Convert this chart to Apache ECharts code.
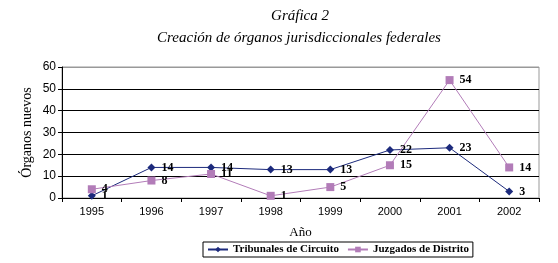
<!DOCTYPE html>
<html>
<head>
<meta charset="utf-8">
<script src="https://cdn.jsdelivr.net/npm/echarts@6/dist/echarts.min.js"></script>
<style>html,body{margin:0;padding:0;background:#fff;}</style>
</head>
<body>
<div id="main" style="width:558px;height:263px;"></div>
<script>
var years = ['1995', '1996', '1997', '1998', '1999', '2000', '2001', '2002'];
var tribunales = [1, 14, 14, 13, 13, 22, 23, 3];
var juzgados = [4, 8, 11, 1, 5, 15, 54, 14];

var chart = echarts.init(document.getElementById('main'));
var serif = '"Liberation Serif", "DejaVu Serif", serif';
var lbl = { show: true, position: 'right', distance: 6, color: '#000', fontFamily: serif, fontWeight: 'bold', fontSize: 12 };

var option = {
    animation: false,
    title: [
        { text: 'Gráfica 2', left: 295, top: 4, textAlign: 'center',
          textStyle: { fontFamily: serif, fontStyle: 'italic', fontWeight: 'normal', fontSize: 15, color: '#000' } },
        { text: 'Creación de órganos jurisdiccionales federales', left: 294, top: 26, textAlign: 'center',
          textStyle: { fontFamily: serif, fontStyle: 'italic', fontWeight: 'normal', fontSize: 15, color: '#000' } }
    ],
    grid: { left: 62, right: 19, top: 67, bottom: 65, show: true, borderColor: '#999', borderWidth: 1 },
    legend: {
        top: 242, left: 203,
        data: ['Tribunales de Circuito', 'Juzgados de Distrito'],
        itemWidth: 20, itemHeight: 7, itemGap: 8,
        borderColor: '#000', borderWidth: 1, padding: [2, 4],
        textStyle: { fontFamily: serif, fontWeight: 'bold', fontSize: 11, color: '#000' }
    },
    xAxis: {
        type: 'category', data: years, boundaryGap: true,
        name: 'Año', nameLocation: 'middle', nameGap: 28,
        nameTextStyle: { fontFamily: serif, fontSize: 13, color: '#000' },
        axisLine: { lineStyle: { color: '#000' } },
        axisTick: { show: true, length: 4, lineStyle: { color: '#000' } },
        axisLabel: { fontFamily: '"Liberation Sans", Arial, sans-serif', fontSize: 11, color: '#000', margin: 8 }
    },
    yAxis: {
        type: 'value', min: 0, max: 60, interval: 10,
        name: 'Órganos nuevos', nameLocation: 'middle', nameGap: 28, nameRotate: 90,
        nameMoveOverlap: false,
        nameTextStyle: { fontFamily: serif, fontSize: 14, color: '#000' },
        axisLine: { show: true, lineStyle: { color: '#000' } },
        axisTick: { show: true, length: 4, lineStyle: { color: '#000' } },
        axisLabel: { fontFamily: '"Liberation Sans", Arial, sans-serif', fontSize: 12, color: '#000', margin: 6 },
        splitLine: { show: true, lineStyle: { color: ['#000', '#000', '#000', '#000', '#000', '#000', '#999'], width: 1 } }
    },
    series: [
        {
            name: 'Tribunales de Circuito', type: 'line', data: tribunales,
            symbol: 'diamond', symbolSize: 8,
            lineStyle: { color: '#1c2a7c', width: 1 },
            itemStyle: { color: '#1c2a7c' },
            label: lbl
        },
        {
            name: 'Juzgados de Distrito', type: 'line', data: juzgados,
            symbol: 'rect', symbolSize: 8,
            lineStyle: { color: '#b27cb8', width: 1 },
            itemStyle: { color: '#b27cb8' },
            label: lbl
        }
    ]
};
chart.setOption(option);
</script>
</body>
</html>
